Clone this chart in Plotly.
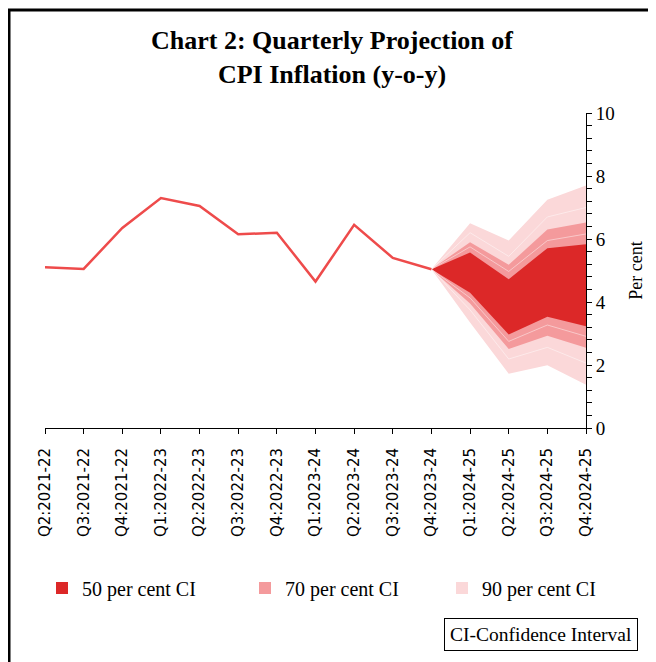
import plotly.graph_objects as go

categories = ["Q2:2021-22", "Q3:2021-22", "Q4:2021-22", "Q1:2022-23", "Q2:2022-23",
              "Q3:2022-23", "Q4:2022-23", "Q1:2023-24", "Q2:2023-24", "Q3:2023-24",
              "Q4:2023-24", "Q1:2024-25", "Q2:2024-25", "Q3:2024-25", "Q4:2024-25"]

actual = [5.1, 5.05, 6.35, 7.3, 7.05, 6.15, 6.2, 4.65, 6.45, 5.4, 5.04]

proj_categories = categories[10:]
upper90 = [5.04, 6.5, 5.95, 7.25, 7.7]
upper80 = [5.04, 6.2, 5.45, 6.7, 7.0]
upper70 = [5.04, 5.9, 5.18, 6.3, 6.52]
upper60 = [5.04, 5.75, 4.97, 5.95, 6.16]
upper50 = [5.04, 5.57, 4.72, 5.71, 5.83]
lower50 = [5.04, 4.29, 2.97, 3.53, 3.23]
lower60 = [5.04, 4.13, 2.75, 3.27, 2.91]
lower70 = [5.04, 3.95, 2.51, 2.93, 2.55]
lower80 = [5.04, 3.75, 2.19, 2.56, 2.06]
lower90 = [5.04, 3.35, 1.72, 1.99, 1.37]

legend_labels = ["50 per cent CI", "70 per cent CI", "90 per cent CI"]

C50 = "#DC2828"
C70 = "#F49A9C"
C90 = "#FBD8D9"
LINE = "#EE4B4B"
SERIF = "Liberation Serif"

fig = go.Figure()

for lo, hi, col in [(lower90, upper90, C90), (lower70, upper70, C70), (lower50, upper50, C50)]:
    fig.add_trace(go.Scatter(x=proj_categories, y=lo, mode="lines", line=dict(width=0, color=col),
                             showlegend=False, hoverinfo="skip"))
    fig.add_trace(go.Scatter(x=proj_categories, y=hi, mode="lines", line=dict(width=0, color=col),
                             fill="tonexty", fillcolor=col, showlegend=False, hoverinfo="skip"))

for arr in [upper80, upper60, lower60, lower80]:
    fig.add_trace(go.Scatter(x=proj_categories, y=arr, mode="lines",
                             line=dict(width=1, color="rgba(255,255,255,0.45)"),
                             showlegend=False, hoverinfo="skip"))

fig.add_trace(go.Scatter(x=categories[:len(actual)], y=actual, mode="lines",
                         line=dict(width=2.5, color=LINE), showlegend=False))

legend_ids = ["legend", "legend2", "legend3"]
for lab, col, lid in zip(legend_labels, [C50, C70, C90], legend_ids):
    fig.add_trace(go.Scatter(x=[None], y=[None], mode="markers", name=lab, legend=lid,
                             marker=dict(symbol="square", size=12, color=col)))

# paper coordinate helpers, in screen px (plot area: x 45..586, y 113..428 on screen)
def px_x(p):
    return (p - 45) / 541.0

def px_y(p):
    return (428 - p) / 315.0

OFF = 8  # page offset of the figure on screen

def legend_at(screen_x):
    return dict(orientation="h", xref="container", x=(screen_x - OFF) / 656, xanchor="left",
                yref="container", y=1 - (588 - OFF) / 662, yanchor="middle",
                font=dict(family=SERIF, size=20, color="black"),
                bgcolor="rgba(0,0,0,0)")

fig.update_layout(
    width=656, height=662,
    margin=dict(l=45 - OFF, r=656 - (586 - OFF), t=113 - OFF, b=662 - (428 - OFF)),
    paper_bgcolor="white", plot_bgcolor="white",
    title=dict(text="<b>Chart 2: Quarterly Projection of<br>CPI Inflation (y-o-y)</b>",
               x=(332 - OFF) / 656, xanchor="center", y=1 - 41 / 662, yanchor="middle",
               font=dict(family=SERIF, size=26, color="black")),
    xaxis=dict(type="category", categoryorder="array", categoryarray=categories,
               range=[0, 14], showgrid=False, zeroline=False, showline=True,
               linecolor="black", linewidth=1, ticks="outside", ticklen=5,
               tickcolor="black", tickangle=-90, ticklabelstandoff=8,
               tickfont=dict(family="DejaVu Sans", size=15, color="black")),
    yaxis=dict(side="right", range=[0, 10], dtick=2, showgrid=False, zeroline=False,
               showline=True, linecolor="black", linewidth=1, ticks="outside",
               ticklen=5, tickcolor="black",
               minor=dict(dtick=0.4, ticks="outside", ticklen=5, tickcolor="black"),
               tickfont=dict(family=SERIF, size=19, color="black"),
               title=dict(text="Per cent", font=dict(family=SERIF, size=18, color="black"),
                          standoff=15)),
    legend=legend_at(42),
    legend2=legend_at(245),
    legend3=legend_at(442),
    showlegend=True,
)

fig.add_annotation(text="CI-Confidence Interval", xref="paper", yref="paper",
                   x=px_x(541), y=px_y(634), xanchor="center", yanchor="middle",
                   showarrow=False, font=dict(family=SERIF, size=19.5, color="black"),
                   bordercolor="black", borderwidth=1, borderpad=5, bgcolor="white")

# outer frame lines (top and left)
fig.add_shape(type="line", xref="paper", yref="paper", x0=px_x(8), x1=px_x(670),
              y0=px_y(10), y1=px_y(10), line=dict(color="black", width=3))
fig.add_shape(type="line", xref="paper", yref="paper", x0=px_x(9), x1=px_x(9),
              y0=px_y(9), y1=px_y(680), line=dict(color="black", width=3))

fig.write_html("out.html")
